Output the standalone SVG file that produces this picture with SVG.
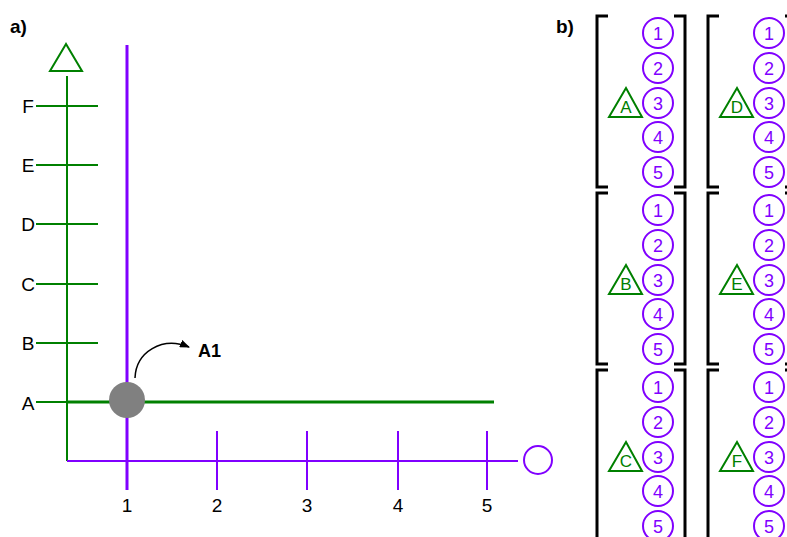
<svg xmlns="http://www.w3.org/2000/svg" width="787" height="537" viewBox="0 0 787 537">
<style>
text{font-family:"Liberation Sans",Arial,sans-serif;font-size:18px}
.b{font-weight:bold}
.h{font-size:19px}
.g{stroke:#008000;fill:none;stroke-width:2}
.p{stroke:#8000ff;fill:none;stroke-width:2}
.pc{stroke:#8000ff;fill:#fff;stroke-width:2}
.gt{stroke:#008000;fill:#fff;stroke-width:2}
.br{stroke:#000;fill:none;stroke-width:3}
.pt{fill:#8000ff;text-anchor:middle}
.gl{fill:#008000;text-anchor:middle;font-size:17px}
.k{fill:#000;text-anchor:middle;font-size:19px}
</style>
<defs>
<marker id="ah" markerWidth="10" markerHeight="8" refX="9" refY="4" orient="auto" markerUnits="userSpaceOnUse">
<path d="M0,0 L10,4 L0,8 Z" fill="#000"/>
</marker>
<g id="col">
<circle class="pc" cx="0" cy="17" r="15"/><text class="pt" x="0" y="23.5">1</text>
<circle class="pc" cx="0" cy="52" r="15"/><text class="pt" x="0" y="58.5">2</text>
<circle class="pc" cx="0" cy="87" r="15"/><text class="pt" x="0" y="93.5">3</text>
<circle class="pc" cx="0" cy="121" r="15"/><text class="pt" x="0" y="127.5">4</text>
<circle class="pc" cx="0" cy="156" r="15"/><text class="pt" x="0" y="162.5">5</text>
</g>
<path id="brk" class="br" d="M11,0 H0 V171 H11 M77,0 H88 V171 H77"/>
</defs>

<g id="panel-a">
<text class="b h" x="10" y="33">a)</text>
<g id="y-axis">
<line class="g" x1="67" y1="76" x2="67" y2="461"/>
<polygon class="g" points="66,44 50,71 82,71"/>
<line class="g" x1="36" y1="106" x2="98" y2="106"/>
<line class="g" x1="36" y1="165" x2="98" y2="165"/>
<line class="g" x1="36" y1="224" x2="98" y2="224"/>
<line class="g" x1="36" y1="284" x2="98" y2="284"/>
<line class="g" x1="36" y1="343" x2="98" y2="343"/>
<line class="g" x1="36" y1="402" x2="67" y2="402"/>
<text class="k" x="28" y="113">F</text>
<text class="k" x="28" y="172">E</text>
<text class="k" x="28" y="231">D</text>
<text class="k" x="28" y="291">C</text>
<text class="k" x="28" y="350">B</text>
<text class="k" x="28" y="410">A</text>
</g>
<g id="x-axis">
<line class="p" x1="67" y1="461" x2="518" y2="461"/>
<circle class="p" cx="538" cy="460" r="14"/>
<line class="p" x1="217" y1="431" x2="217" y2="490"/>
<line class="p" x1="307" y1="431" x2="307" y2="490"/>
<line class="p" x1="398" y1="431" x2="398" y2="490"/>
<line class="p" x1="487" y1="431" x2="487" y2="490"/>
<text class="k" x="127" y="512">1</text>
<text class="k" x="217" y="512">2</text>
<text class="k" x="307" y="512">3</text>
<text class="k" x="398" y="512">4</text>
<text class="k" x="487" y="512">5</text>
</g>
<g id="lines">
<line stroke="#8000ff" stroke-width="3" x1="127" y1="45" x2="127" y2="490"/>
<line stroke="#008000" stroke-width="3" x1="67" y1="402" x2="494" y2="402"/>
</g>
<g id="point-A1">
<circle cx="127" cy="400" r="18" fill="#808080"/>
<path d="M135,378 C136,352 162,336 189,347" fill="none" stroke="#000" stroke-width="1.5" marker-end="url(#ah)"/>
<text class="b" x="198" y="357">A1</text>
</g>
</g>

<g id="panel-b">
<text class="b h" x="556" y="33">b)</text>
<g id="set-A">
<use href="#brk" x="597" y="16"/>
<use href="#col" x="658" y="16"/>
<polygon class="gt" points="626,88 609,117 642,117"/><text class="gl" x="626" y="113">A</text>
</g>
<g id="set-B">
<use href="#brk" x="597" y="193"/>
<use href="#col" x="658" y="193"/>
<polygon class="gt" points="626,265 609,294 642,294"/><text class="gl" x="626" y="290">B</text>
</g>
<g id="set-C">
<use href="#brk" x="597" y="370"/>
<use href="#col" x="658" y="370"/>
<polygon class="gt" points="626,442 609,471 642,471"/><text class="gl" x="626" y="467">C</text>
</g>
<g id="set-D">
<use href="#brk" x="708" y="16"/>
<use href="#col" x="769" y="16"/>
<polygon class="gt" points="737,88 720,117 753,117"/><text class="gl" x="737" y="113">D</text>
</g>
<g id="set-E">
<use href="#brk" x="708" y="193"/>
<use href="#col" x="769" y="193"/>
<polygon class="gt" points="737,265 720,294 753,294"/><text class="gl" x="737" y="290">E</text>
</g>
<g id="set-F">
<use href="#brk" x="708" y="370"/>
<use href="#col" x="769" y="370"/>
<polygon class="gt" points="737,442 720,471 753,471"/><text class="gl" x="737" y="467">F</text>
</g>
</g>
</svg>
